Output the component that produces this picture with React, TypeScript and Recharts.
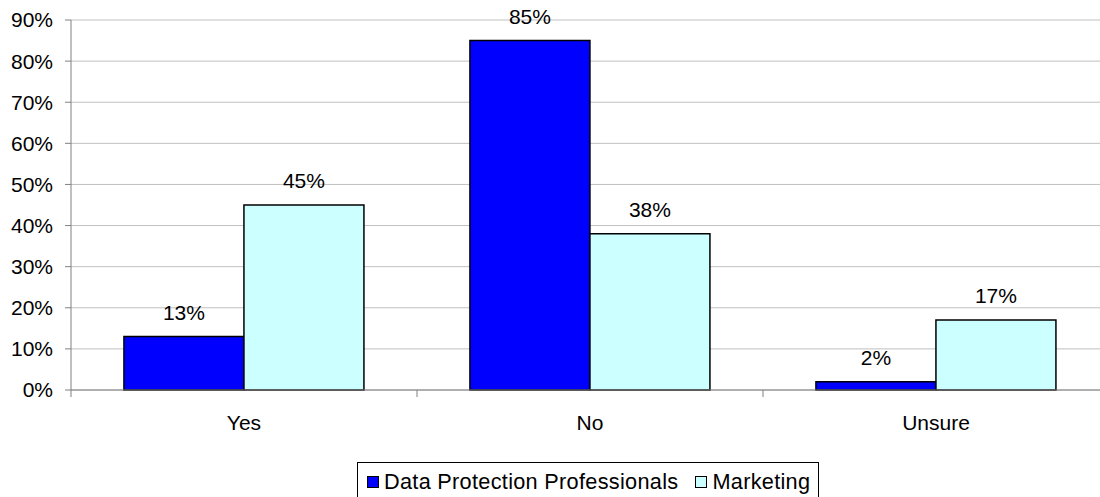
import { BarChart, Bar, XAxis, YAxis, CartesianGrid, Legend, LabelList } from 'recharts';

const categories = ['Yes', 'No', 'Unsure'];
const dataProtection = [13, 85, 2];
const marketing = [45, 38, 17];
const yTicks = [0, 10, 20, 30, 40, 50, 60, 70, 80, 90];

const data = categories.map((name, i) => ({
  name,
  dataProtection: dataProtection[i],
  marketing: marketing[i],
}));

const FONT = 'Liberation Sans, Arial, sans-serif';
const BLUE = '#0000FF';
const CYAN = '#CCFFFF';

// category label at the band centre, tick mark on the band's left boundary
function CategoryTick(props: any) {
  const { x, y, width, payload } = props;
  const band = width / categories.length;
  const left = x - band / 2;
  return (
    <g>
      <line x1={left} x2={left} y1={y} y2={y + 7} stroke="#808080" strokeWidth={1} />
      <text x={x} y={y + 40} textAnchor="middle" fontSize={21} fontFamily={FONT} fill="#000">
        {payload.value}
      </text>
    </g>
  );
}

function BoxLegend() {
  const items = [
    { label: 'Data Protection Professionals', color: BLUE },
    { label: 'Marketing', color: CYAN },
  ];
  return (
    <div
      style={{
        border: '1px solid #000',
        background: '#fff',
        padding: '6px 8px 10px 9px',
        display: 'flex',
        alignItems: 'center',
        fontFamily: FONT,
        fontSize: 21.7,
        letterSpacing: 0.3,
        color: '#000',
        whiteSpace: 'nowrap',
      }}
    >
      {items.map((it, i) => (
        <span key={it.label} style={{ display: 'flex', alignItems: 'center', marginLeft: i === 0 ? 0 : 17 }}>
          <span
            style={{
              display: 'inline-block',
              width: 10,
              height: 10,
              background: it.color,
              border: '1px solid #000',
              marginRight: 5,
            }}
          />
          {it.label}
        </span>
      ))}
    </div>
  );
}

export default function App() {
  return (
    <div style={{ position: 'absolute', left: 0, top: 0, width: 1100, height: 497, overflow: 'hidden', background: '#fff' }}>
      <BarChart
        width={1110}
        height={497}
        data={data}
        margin={{ top: 20, right: 1, bottom: 47, left: 0 }}
        barCategoryGap="15.3%"
        barGap={0}
      >
        <CartesianGrid vertical={false} stroke="#c0c0c0" strokeWidth={1} />
        <YAxis
          domain={[0, 90]}
          ticks={yTicks}
          interval={0}
          width={71}
          tickFormatter={(v: number) => `${v}%`}
          axisLine={{ stroke: '#808080' }}
          tickLine={{ stroke: '#808080' }}
          tickSize={6}
          tickMargin={12}
          tick={{ fontSize: 21, fontFamily: FONT, fill: '#000' }}
        />
        <XAxis
          dataKey="name"
          height={60}
          axisLine={{ stroke: '#808080' }}
          tickLine={false}
          tickSize={0}
          tickMargin={0}
          interval={0}
          tick={<CategoryTick />}
        />
        <Legend
          layout="horizontal"
          verticalAlign="middle"
          align="center"
          wrapperStyle={{ top: 462, left: 357, width: 'auto', height: 'auto' }}
          content={() => <BoxLegend />}
        />
        <Bar dataKey="dataProtection" fill={BLUE} stroke="#000" strokeWidth={1.5} isAnimationActive={false}>
          <LabelList
            dataKey="dataProtection"
            position="top"
            offset={17}
            formatter={(v: any) => `${v}%`}
            style={{ fontSize: 21, fontFamily: FONT, fill: '#000' }}
          />
        </Bar>
        <Bar dataKey="marketing" fill={CYAN} stroke="#000" strokeWidth={1.5} isAnimationActive={false}>
          <LabelList
            dataKey="marketing"
            position="top"
            offset={17}
            formatter={(v: any) => `${v}%`}
            style={{ fontSize: 21, fontFamily: FONT, fill: '#000' }}
          />
        </Bar>
      </BarChart>
    </div>
  );
}
